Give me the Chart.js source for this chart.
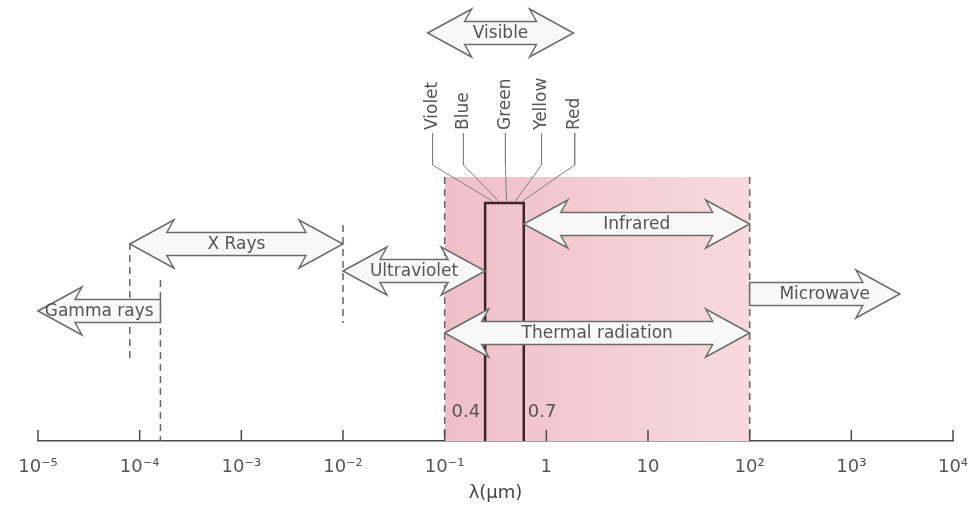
<!DOCTYPE html>
<html>
<head>
<meta charset="utf-8">
<script src="https://cdn.jsdelivr.net/npm/chart.js@4.4.1/dist/chart.umd.min.js"></script>
<style>
  html, body { margin: 0; padding: 0; background: #ffffff; }
  #wrap { width: 980px; height: 506px; }
</style>
</head>
<body>
<div id="wrap"><canvas id="c" width="980" height="506"></canvas></div>
<script>
// ---------- DATA ----------
// wavelength axis (micrometres)
const tickValues = [1e-5, 1e-4, 1e-3, 1e-2, 1e-1, 1, 10, 100, 1000, 10000];
const tickLabels = ['10⁻⁵', '10⁻⁴', '10⁻³', '10⁻²', '10⁻¹', '1', '10', '10²', '10³', '10⁴'];

// spectral bands (arrows): start / end wavelength as drawn, and which ends carry heads
const bandNames = ['Gamma rays', 'X Rays', 'Ultraviolet', 'Visible', 'Infrared', 'Thermal radiation', 'Microwave'];
const bandFrom  = [1.6e-4, 8e-5, 0.01, 0.068, 0.6, 0.1, 100];
const bandTo    = [1e-5, 0.01, 0.25, 1.85, 100, 100, 3000];
const bandHeads = ['to', 'both', 'both', 'both', 'both', 'both', 'to'];
const bandLevel = [130, 197, 170, 408, 217, 108, 147];   // vertical level of each band

// thermal-radiation shaded region
const thermalRange = [0.1, 100];
const thermalTop = 264;

// visible window (box) and its labels
const visibleEdges = [0.25, 0.6];
const visibleLabels = ['0.4', '0.7'];
const visibleTop = 238;

// colour names of the visible band
const colorNames   = ['Violet', 'Blue', 'Green', 'Yellow', 'Red'];
const colorLabelAt = [0.076, 0.153, 0.396, 0.897, 1.9];
const colorPointAt = [0.295, 0.338, 0.406, 0.497, 0.583];

// dashed boundary lines
const dashX      = [8e-5, 1.6e-4, 0.01, 0.1, 100];
const dashTop    = [198, 161, 216, 264, 264];
const dashBottom = [83, 0, 118, 0, 0];

// ---------- STYLE ----------
const FONT = "'DejaVu Sans', 'Liberation Sans', sans-serif";
const TEXT = '#555555';
const ARROW = { shaftHalf: 11.5, headHalf: 24, headLen: 44, sweep: 7, fill: '#f8f8f8', stroke: '#6c6c6c' };
const LEADER = { textBase: 308, bend: 276, end: 240 };

// ---------- DATASETS ----------
const datasets = [];
datasets.push({
  order: 10,
  data: [{ x: thermalRange[0], y: thermalTop }, { x: thermalRange[1], y: thermalTop }],
  borderWidth: 0,
  borderColor: 'rgba(0,0,0,0)',
  fill: 'origin',
  backgroundColor: (c) => {
    const ch = c.chart;
    if (!ch.chartArea) return '#f2c8ce';
    const xs = ch.scales.x;
    const g = ch.ctx.createLinearGradient(xs.getPixelForValue(thermalRange[0]), 0, xs.getPixelForValue(thermalRange[1]), 0);
    g.addColorStop(0, '#efbfc7');
    g.addColorStop(1, '#f7dadd');
    return g;
  }
});
dashX.forEach((xv, i) => {
  datasets.push({
    order: 5,
    data: [{ x: xv, y: dashTop[i] }, { x: xv, y: dashBottom[i] }],
    borderColor: '#666666', borderWidth: 1.5, borderDash: [7, 5], fill: false
  });
});
datasets.push({
  order: 1,
  data: [
    { x: visibleEdges[0], y: 0 }, { x: visibleEdges[0], y: visibleTop },
    { x: visibleEdges[1], y: visibleTop }, { x: visibleEdges[1], y: 0 }
  ],
  borderColor: '#3d2327', borderWidth: 2.5, fill: false
});
colorNames.forEach((n, i) => {
  datasets.push({
    order: 2,
    data: [
      { x: colorLabelAt[i], y: LEADER.textBase }, { x: colorLabelAt[i], y: LEADER.bend },
      { x: colorPointAt[i], y: LEADER.end }
    ],
    borderColor: '#808080', borderWidth: 1, fill: false
  });
});

// ---------- DRAWING PLUGIN ----------
function arrowPath(ctx, xa, xb, cy, headA, headB) {
  const { shaftHalf: s, headHalf: h, headLen: L, sweep: w } = ARROW;
  ctx.beginPath();
  if (headA) {
    ctx.moveTo(xa, cy);
    ctx.lineTo(xa + L, cy - h);
    ctx.lineTo(xa + L - w, cy - s);
  } else {
    ctx.moveTo(xa, cy + s);
    ctx.lineTo(xa, cy - s);
  }
  if (headB) {
    ctx.lineTo(xb - L + w, cy - s);
    ctx.lineTo(xb - L, cy - h);
    ctx.lineTo(xb, cy);
    ctx.lineTo(xb - L, cy + h);
    ctx.lineTo(xb - L + w, cy + s);
  } else {
    ctx.lineTo(xb, cy - s);
    ctx.lineTo(xb, cy + s);
  }
  if (headA) {
    ctx.lineTo(xa + L - w, cy + s);
    ctx.lineTo(xa + L, cy + h);
  }
  ctx.closePath();
}

const diagramPlugin = {
  id: 'diagram',
  afterDatasetsDraw(chart) {
    const { ctx, chartArea } = chart;
    const xs = chart.scales.x, ys = chart.scales.y;
    ctx.save();
    // upward tick marks on the axis
    ctx.strokeStyle = '#4a4a4a';
    ctx.lineWidth = 1.5;
    tickValues.forEach(v => {
      const px = xs.getPixelForValue(v);
      ctx.beginPath();
      ctx.moveTo(px, chartArea.bottom);
      ctx.lineTo(px, chartArea.bottom - 11);
      ctx.stroke();
    });
    // band arrows
    bandNames.forEach((name, i) => {
      const p1 = xs.getPixelForValue(bandFrom[i]);
      const p2 = xs.getPixelForValue(bandTo[i]);
      const xa = Math.min(p1, p2), xb = Math.max(p1, p2);
      const cy = ys.getPixelForValue(bandLevel[i]);
      let headA = true, headB = true;
      if (bandHeads[i] === 'to') { headA = p2 < p1; headB = p2 > p1; }
      arrowPath(ctx, xa, xb, cy, headA, headB);
      ctx.fillStyle = ARROW.fill;
      ctx.fill();
      ctx.strokeStyle = ARROW.stroke;
      ctx.lineWidth = 1.5;
      ctx.lineJoin = 'miter';
      ctx.stroke();
      ctx.fillStyle = TEXT;
      ctx.font = '17px ' + FONT;
      ctx.textAlign = 'center';
      ctx.textBaseline = 'middle';
      ctx.fillText(name, (xa + xb) / 2, cy + 1);
    });
    // colour names (vertical)
    ctx.font = '17px ' + FONT;
    ctx.fillStyle = TEXT;
    colorNames.forEach((n, i) => {
      const px = xs.getPixelForValue(colorLabelAt[i]);
      const py = ys.getPixelForValue(LEADER.textBase) - 3;
      ctx.save();
      ctx.translate(px, py);
      ctx.rotate(-Math.PI / 2);
      ctx.textAlign = 'left';
      ctx.textBaseline = 'middle';
      ctx.fillText(n, 0, 0);
      ctx.restore();
    });
    // 0.4 / 0.7 labels
    ctx.font = '18px ' + FONT;
    ctx.textBaseline = 'middle';
    const ly = ys.getPixelForValue(29);
    ctx.textAlign = 'right';
    ctx.fillText(visibleLabels[0], xs.getPixelForValue(visibleEdges[0]) - 5, ly);
    ctx.textAlign = 'left';
    ctx.fillText(visibleLabels[1], xs.getPixelForValue(visibleEdges[1]) + 4, ly);
    ctx.restore();
  }
};

// ---------- CHART ----------
new Chart(document.getElementById('c'), {
  type: 'line',
  data: { datasets },
  options: {
    responsive: false,
    animation: false,
    devicePixelRatio: 1,
    layout: { padding: { left: 38, right: 27, top: 0, bottom: 0 } },
    plugins: { legend: { display: false }, tooltip: { enabled: false } },
    elements: { point: { radius: 0, hoverRadius: 0 }, line: { tension: 0 } },
    scales: {
      x: {
        type: 'logarithmic',
        min: 1e-5, max: 1e4,
        afterBuildTicks: (s) => { s.ticks = tickValues.map(v => ({ value: v })); },
        afterFit: (s) => { s.height = 65; s.paddingLeft = 0; s.paddingRight = 0; },
        grid: { display: false, drawTicks: false },
        border: { display: true, color: '#4a4a4a', width: 1.5 },
        ticks: {
          autoSkip: false, maxRotation: 0, minRotation: 0, padding: 16,
          color: TEXT, font: { family: FONT, size: 18 },
          callback: (v, i) => tickLabels[i]
        },
        title: {
          display: true, text: 'λ(μm)', color: '#444444',
          font: { family: FONT, size: 18 }, padding: { top: 0, bottom: 2 }
        }
      },
      y: { type: 'linear', display: false, min: 0, max: 441 }
    }
  },
  plugins: [diagramPlugin]
});
</script>
</body>
</html>
